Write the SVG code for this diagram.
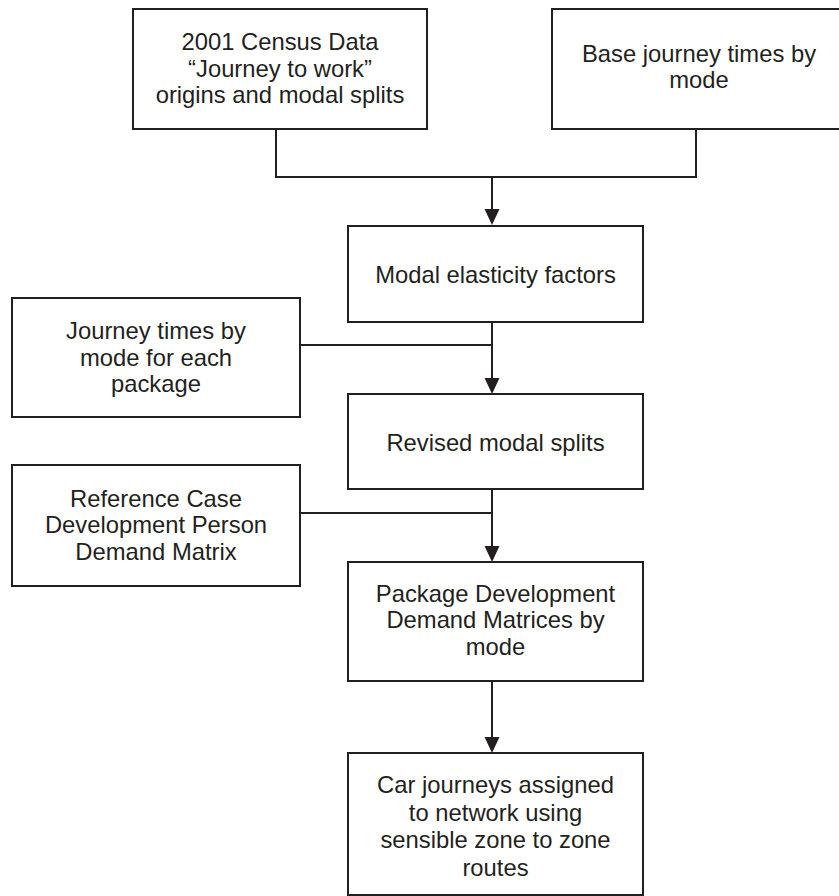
<svg xmlns="http://www.w3.org/2000/svg" width="839" height="896" viewBox="0 0 839 896">
<defs>
<style>
.box{fill:#fff;stroke:#231f20;stroke-width:2}
.t{font-family:"Liberation Sans",Arial,sans-serif;font-size:23.8px;fill:#231f20;text-anchor:middle}
.ln{fill:none;stroke:#231f20;stroke-width:2}
</style>
<marker id="ah" markerWidth="15" markerHeight="16" refX="7.5" refY="16" orient="auto" markerUnits="userSpaceOnUse" viewBox="0 0 15 16">
<path d="M0,0 L15,0 L7.5,16 Z" fill="#231f20"/>
</marker>
</defs>
<rect width="839" height="896" fill="#fff"/>
<g id="connectors">
<polyline class="ln" points="276,129 276,177 696,177 696,129"/>
<line class="ln" x1="492" y1="177" x2="492" y2="209"/>
<path d="M484.5,209 L499.5,209 L492,225 Z" fill="#231f20"/>
<line class="ln" x1="300" y1="345" x2="492" y2="345"/>
<line class="ln" x1="492" y1="322" x2="492" y2="378"/>
<path d="M484.5,378 L499.5,378 L492,394 Z" fill="#231f20"/>
<line class="ln" x1="300" y1="513" x2="492" y2="513"/>
<line class="ln" x1="492" y1="489" x2="492" y2="546"/>
<path d="M484.5,546 L499.5,546 L492,562 Z" fill="#231f20"/>
<line class="ln" x1="492" y1="681" x2="492" y2="737"/>
<path d="M484.5,737 L499.5,737 L492,753 Z" fill="#231f20"/>
</g>
<g id="census">
<rect class="box" x="133" y="9" width="294" height="120"/>
<text class="t" x="280" y="50">2001 Census Data</text>
<text class="t" x="280" y="77">“Journey to work”</text>
<text class="t" x="280" y="103">origins and modal splits</text>
</g>
<g id="base">
<rect class="box" x="552" y="9" width="300" height="120"/>
<text class="t" x="699" y="62">Base journey times by</text>
<text class="t" x="699" y="88">mode</text>
</g>
<g id="elasticity">
<rect class="box" x="348" y="226" width="295" height="96"/>
<text class="t" x="495.5" y="283">Modal elasticity factors</text>
</g>
<g id="journeytimes">
<rect class="box" x="12" y="298" width="288" height="119"/>
<text class="t" x="156" y="339">Journey times by</text>
<text class="t" x="156" y="366">mode for each</text>
<text class="t" x="156" y="392">package</text>
</g>
<g id="revised">
<rect class="box" x="348" y="394" width="295" height="95"/>
<text class="t" x="495.5" y="451">Revised modal splits</text>
</g>
<g id="reference">
<rect class="box" x="12" y="465" width="288" height="121"/>
<text class="t" x="156" y="507">Reference Case</text>
<text class="t" x="156" y="533">Development Person</text>
<text class="t" x="156" y="560">Demand Matrix</text>
</g>
<g id="package">
<rect class="box" x="348" y="562" width="295" height="119"/>
<text class="t" x="495.5" y="602">Package Development</text>
<text class="t" x="495.5" y="628">Demand Matrices by</text>
<text class="t" x="495.5" y="655">mode</text>
</g>
<g id="car">
<rect class="box" x="348" y="753" width="295" height="142"/>
<text class="t" x="495.5" y="793">Car journeys assigned</text>
<text class="t" x="495.5" y="821">to network using</text>
<text class="t" x="495.5" y="848">sensible zone to zone</text>
<text class="t" x="495.5" y="876">routes</text>
</g>
</svg>
